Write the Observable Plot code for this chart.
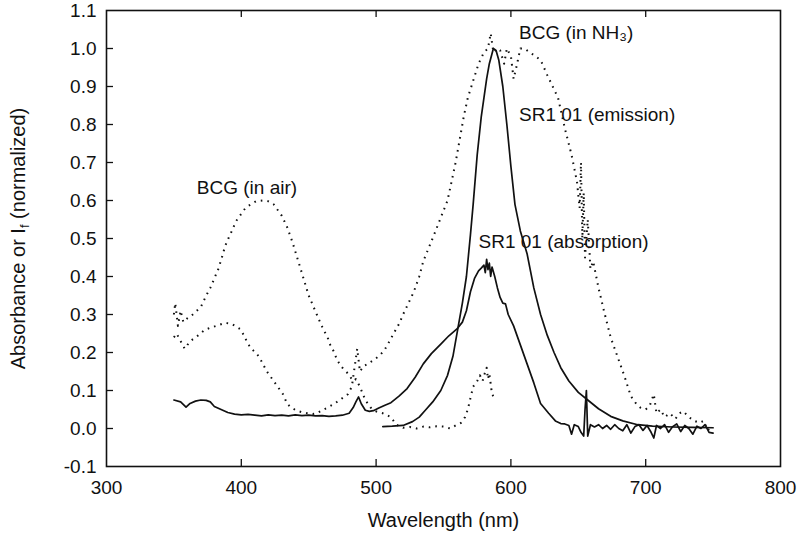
<!DOCTYPE html>
<html>
<head>
<meta charset="utf-8">
<script src="https://cdn.jsdelivr.net/npm/d3@7"></script>
<script src="https://cdn.jsdelivr.net/npm/@observablehq/plot@0.6"></script>
<style>
  html, body { margin: 0; padding: 0; background: #fff; }
  #chart svg { font-family: "Liberation Sans", Arial, Helvetica, sans-serif; }
</style>
</head>
<body>
<div id="chart"></div>
<script>
// ---- data (wavelength nm, normalized value) ----
const xTicks = [300, 400, 500, 600, 700, 800];
const yTicks = [-0.1, 0.0, 0.1, 0.2, 0.3, 0.4, 0.5, 0.6, 0.7, 0.8, 0.9, 1.0, 1.1];

const sr101Absorption = [
  [350,0.075],[355,0.07],[359,0.056],[362,0.066],[366,0.072],[370,0.075],[374,0.074],[377,0.07],[380,0.058],[385,0.05],[390,0.042],[395,0.038],
  [400,0.036],[405,0.037],[410,0.035],[415,0.033],[420,0.036],[425,0.034],[430,0.035],[435,0.033],[440,0.036],[445,0.034],[450,0.035],[455,0.033],
  [460,0.034],[465,0.032],[470,0.033],[475,0.035],[480,0.04],[483,0.055],[485,0.07],[487,0.083],[489,0.065],[492,0.048],[495,0.045],[498,0.047],
  [502,0.054],[507,0.062],[511,0.068],[517,0.085],[523,0.105],[529,0.135],[535,0.17],[541,0.197],[548,0.222],[554,0.244],[560,0.262],[564,0.28],
  [567,0.31],[570,0.36],[573,0.395],[576,0.415],[578,0.422],[580,0.43],[581,0.41],[582,0.445],[583,0.418],[584,0.435],[585,0.4],[586,0.425],
  [588,0.4],[590,0.37],[592,0.345],[594,0.33],[596,0.328],[598,0.3],[602,0.27],[607,0.22],[612,0.17],[617,0.12],[622,0.066],[628,0.04],
  [633,0.02],[637,0.013],[640,0.012],[643,0.008],[645,-0.015],[647,0.01],[650,0.005],[652,-0.01],[654,-0.02],[655,0.05],[656,0.1],[657,-0.02],
  [659,0.01],[662,0.004],[665,0.01],[668,0.0],[671,0.008],[674,-0.002],[677,0.01],[680,0.0],[683,-0.006],[686,0.01],[689,-0.012],[692,0.005],
  [695,0.01],[698,-0.005],[701,0.008],[704,-0.01],[706,-0.025],[708,0.008],[711,0.0],[714,0.01],[717,-0.01],[720,0.005],[723,0.012],[726,-0.008],
  [729,0.008],[732,0.0],[735,-0.015],[738,0.006],[741,0.0],[744,0.01],[747,-0.01],[750,-0.012]
];

const sr101Emission = [
  [505,0.005],[512,0.006],[520,0.008],[527,0.018],[532,0.03],[537,0.05],[542,0.07],[548,0.1],[553,0.14],[557,0.19],[561,0.27],[564,0.33],
  [567,0.4],[570,0.51],[572,0.59],[575,0.72],[578,0.82],[580,0.87],[582,0.92],[584,0.96],[587,1.0],[589,0.995],[591,0.97],[594,0.9],
  [597,0.8],[600,0.69],[603,0.59],[607,0.52],[612,0.46],[617,0.37],[622,0.3],[627,0.245],[632,0.2],[637,0.16],[643,0.125],[650,0.095],
  [657,0.075],[665,0.052],[674,0.032],[683,0.02],[694,0.01],[705,0.006],[720,0.004],[735,0.003],[750,0.002]
];

const bcgInNH3 = [
  [350,0.24],[352,0.25],[355,0.23],[358,0.21],[360,0.22],[364,0.235],[368,0.245],[373,0.26],[377,0.265],[383,0.272],[388,0.278],[393,0.275],
  [399,0.262],[402,0.245],[405,0.222],[409,0.205],[413,0.19],[416,0.17],[419,0.15],[422,0.135],[425,0.12],[428,0.105],[431,0.09],[434,0.065],
  [437,0.055],[441,0.047],[445,0.043],[449,0.04],[453,0.038],[456,0.04],[460,0.048],[464,0.055],[468,0.063],[471,0.07],[475,0.08],[479,0.09],
  [482,0.11],[484,0.16],[486,0.21],[488,0.15],[491,0.165],[494,0.17],[498,0.18],[502,0.19],[506,0.205],[510,0.23],[513,0.25],[517,0.275],
  [520,0.3],[524,0.33],[528,0.36],[532,0.4],[535,0.44],[539,0.475],[543,0.51],[548,0.555],[553,0.6],[556,0.65],[559,0.7],[562,0.76],
  [565,0.82],[568,0.87],[572,0.915],[576,0.96],[580,0.99],[583,1.0],[585,1.04],[587,0.99],[590,1.0],[592,0.995],[595,0.96],[597,1.0],
  [600,0.98],[602,0.92],[604,0.95],[607,1.0],[610,1.0],[614,0.99],[618,0.98],[622,0.97],[627,0.93],[631,0.9],[635,0.87],[640,0.79],
  [645,0.72],[649,0.65],[651,0.58],[652,0.7],[653,0.5],[654,0.62],[655,0.45],[657,0.55],[659,0.42],[661,0.44],[665,0.37],[669,0.31],
  [674,0.24],[679,0.19],[684,0.14],[689,0.085],[693,0.065],[696,0.055],[700,0.05],[703,0.06],[706,0.09],[708,0.04],[711,0.05],[714,0.03],
  [718,0.04],[722,0.025],[725,0.04],[728,0.045],[732,0.03],[736,0.02],[740,0.015],[743,0.02],[746,-0.005],[749,0.005]
];

const bcgInAir = [
  [350,0.3],[351,0.33],[353,0.27],[355,0.31],[357,0.28],[360,0.29],[364,0.3],[370,0.32],[374,0.35],[377,0.37],[380,0.395],[383,0.42],
  [386,0.455],[388,0.48],[391,0.505],[393,0.52],[396,0.545],[399,0.56],[403,0.58],[407,0.59],[411,0.598],[416,0.6],[420,0.598],[424,0.59],
  [427,0.575],[430,0.56],[434,0.53],[438,0.49],[441,0.455],[444,0.42],[447,0.385],[450,0.35],[453,0.325],[456,0.3],[459,0.275],[461,0.26],
  [464,0.24],[466,0.22],[469,0.2],[471,0.18],[475,0.16],[479,0.145],[483,0.125],[485,0.13],[488,0.11],[492,0.075],[496,0.055],[500,0.045],
  [505,0.04],[511,0.03],[515,0.01],[520,0.002],[525,0.004],[530,0.0],[535,0.005],[540,0.003],[545,0.006],[550,0.005],[555,0.0],[560,0.01],
  [563,0.015],[566,0.03],[568,0.05],[570,0.08],[572,0.11],[575,0.125],[577,0.14],[579,0.125],[581,0.15],[582,0.16],[583,0.13],[584,0.145],
  [586,0.09],[588,0.08]
];

// annotation texts anchored in data units
const labelText = ["BCG (in air)", "SR1 01 (absorption)", "BCG (in NH\u2083)", "SR1 01 (emission)"];
const labelNm   = [367, 576, 606, 606];
const labelVal  = [0.632, 0.492, 1.04, 0.824];
const labels = labelText.map((t, i) => ({text: t, x: labelNm[i], y: labelVal[i]}));

const W = 800, H = 539, mL = 106, mR = 20, mT = 10, mB = 73;
const innerW = W - mL - mR, innerH = H - mT - mB;
const tickLen = 7;

const dotted = {stroke: "#111", strokeWidth: 2, strokeDasharray: "1.6,5", strokeLinecap: "butt"};
const solid = {stroke: "#111", strokeWidth: 1.7};

const chart = Plot.plot({
  width: W, height: H,
  marginLeft: mL, marginRight: mR, marginTop: mT, marginBottom: mB,
  style: {fontSize: "19px", color: "#111", background: "#fff"},
  x: {domain: [300, 800]},
  y: {domain: [-0.1, 1.1]},
  marks: [
    Plot.line(bcgInAir, {x: d => d[0], y: d => d[1], ...dotted}),
    Plot.line(bcgInNH3, {x: d => d[0], y: d => d[1], ...dotted}),
    Plot.line(sr101Absorption, {x: d => d[0], y: d => d[1], ...solid}),
    Plot.line(sr101Emission, {x: d => d[0], y: d => d[1], ...solid}),
    Plot.text(labels, {x: "x", y: "y", text: "text", textAnchor: "start", fontSize: 19, fill: "#111"}),
    Plot.tickX(xTicks.slice(1, -1), {x: d => d, insetTop: innerH - tickLen, stroke: "#111", strokeWidth: 1.3}),
    Plot.tickX(xTicks.slice(1, -1), {x: d => d, insetBottom: innerH - tickLen, stroke: "#111", strokeWidth: 1.3}),
    Plot.tickY(yTicks.slice(1, -1), {y: d => d, insetRight: innerW - tickLen, stroke: "#111", strokeWidth: 1.3}),
    Plot.frame({stroke: "#111", strokeWidth: 1.6}),
    Plot.axisX({ticks: xTicks, tickSize: 0, tickPadding: 14, tickFormat: d => String(d),
      label: "Wavelength (nm)", labelAnchor: "center", labelOffset: 60, labelArrow: "none", fontSize: 19}),
    Plot.axisY({ticks: yTicks, tickSize: 0, tickPadding: 10, tickFormat: d => d.toFixed(1),
      label: "Absorbance or If (normalized)", labelAnchor: "center", labelOffset: 96, labelArrow: "none", fontSize: 19})
  ]
});

document.getElementById("chart").appendChild(chart);

// axis title sizes and the subscript "f" in the y label
const xl = chart.querySelector('g[aria-label="x-axis label"] text');
if (xl) xl.setAttribute("font-size", "20");
const yl = chart.querySelector('g[aria-label="y-axis label"] text');
if (yl) {
  yl.setAttribute("font-size", "20");
  yl.textContent = "";
  const ns = "http://www.w3.org/2000/svg";
  const a = document.createElementNS(ns, "tspan"); a.textContent = "Absorbance or I";
  const b = document.createElementNS(ns, "tspan"); b.textContent = "f"; b.setAttribute("font-size", "13"); b.setAttribute("dy", "4");
  const c = document.createElementNS(ns, "tspan"); c.textContent = " (normalized)"; c.setAttribute("dy", "-4");
  yl.append(a, b, c);
}
</script>
</body>
</html>
